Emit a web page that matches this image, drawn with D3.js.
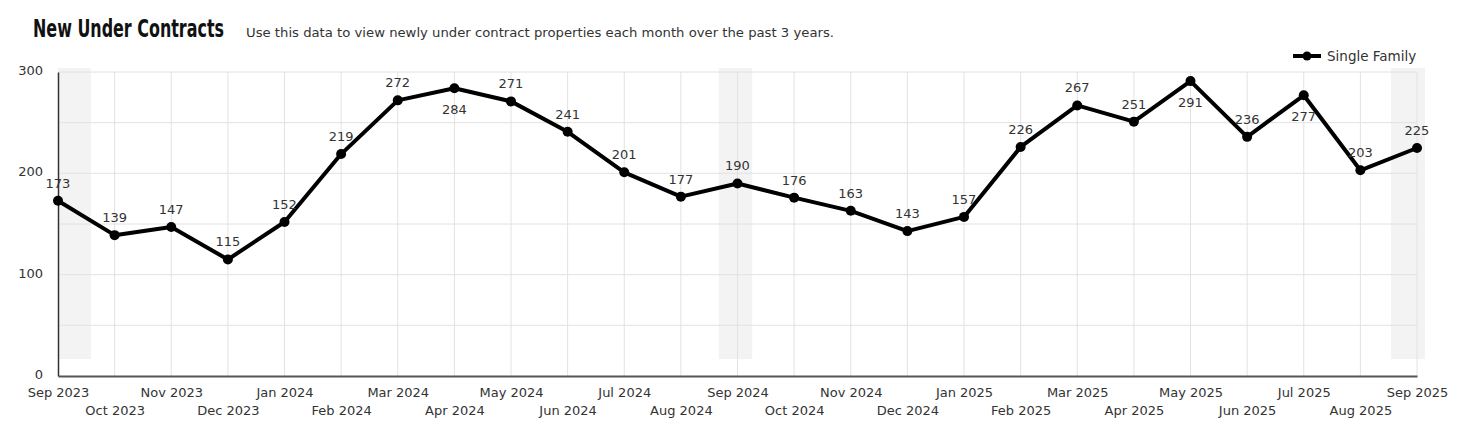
<!DOCTYPE html>
<html>
<head>
<meta charset="utf-8">
<script src="https://cdn.jsdelivr.net/npm/d3@7.9.0/dist/d3.min.js"></script>
<style>
  html, body { margin: 0; padding: 0; background: #fff; }
  svg { display: block; }
  .title { font-family: "DejaVu Sans Condensed", "DejaVu Sans", sans-serif; font-weight: bold; font-size: 24px; fill: #111; }
  .subtitle { font-family: "DejaVu Sans", sans-serif; font-size: 12.5px; fill: #333; }
  .tick text, .lbl, .legend text { font-family: "DejaVu Sans", sans-serif; fill: #333; }
</style>
</head>
<body>
<svg id="chart" width="1462" height="436"></svg>
<script>
// ---- data ----
const months = [
  'Sep 2023', 'Oct 2023', 'Nov 2023', 'Dec 2023', 'Jan 2024', 'Feb 2024', 'Mar 2024',
  'Apr 2024', 'May 2024', 'Jun 2024', 'Jul 2024', 'Aug 2024', 'Sep 2024', 'Oct 2024',
  'Nov 2024', 'Dec 2024', 'Jan 2025', 'Feb 2025', 'Mar 2025', 'Apr 2025', 'May 2025',
  'Jun 2025', 'Jul 2025', 'Aug 2025', 'Sep 2025'
];
const singleFamily = [
  173, 139, 147, 115, 152, 219, 272, 284, 271, 241, 201, 177, 190,
  176, 163, 143, 157, 226, 267, 251, 291, 236, 277, 203, 225
];
const yTicks = [0, 100, 200, 300];
const yGrid = [0, 50, 100, 150, 200, 250, 300];
// shaded September spans, in month-index units
const bandFrom = [0, 11.67, 23.54];
const bandTo = [0.58, 12.26, 24.14];

const W = 1462, H = 436;
const margin = { top: 72, right: 45, bottom: 60, left: 58 };

const svg = d3.select('#chart');

const x = d3.scalePoint()
  .domain(months)
  .range([margin.left, W - margin.right]);

const y = d3.scaleLinear()
  .domain([0, 300])
  .range([H - margin.bottom, margin.top]);

const step = x.step();
const monthPos = i => margin.left + i * step;

// title
svg.append('text')
  .attr('class', 'title')
  .attr('x', 33).attr('y', 37)
  .attr('textLength', 191)
  .attr('lengthAdjust', 'spacingAndGlyphs')
  .text('New Under Contracts');

svg.append('text')
  .attr('class', 'subtitle')
  .attr('x', 246).attr('y', 37)
  .attr('textLength', 588)
  .attr('lengthAdjust', 'spacingAndGlyphs')
  .text('Use this data to view newly under contract properties each month over the past 3 years.');

// shaded bands
svg.append('g')
  .selectAll('rect')
  .data(bandFrom.map((f, i) => [f, bandTo[i]]))
  .join('rect')
  .attr('x', d => monthPos(d[0]))
  .attr('width', d => monthPos(d[1]) - monthPos(d[0]))
  .attr('y', margin.top - 4)
  .attr('height', y(0) - 17 - (margin.top - 4))
  .attr('fill', '#f3f3f3');

// grid
svg.append('g')
  .selectAll('line')
  .data(yGrid.slice(1))
  .join('line')
  .attr('x1', margin.left).attr('x2', W - margin.right)
  .attr('y1', d => y(d)).attr('y2', d => y(d))
  .attr('stroke', '#e2e2e2');

svg.append('g')
  .selectAll('line')
  .data(months.slice(1))
  .join('line')
  .attr('x1', d => x(d)).attr('x2', d => x(d))
  .attr('y1', y(300)).attr('y2', y(0))
  .attr('stroke', '#e2e2e2');

// y axis
const yAxis = svg.append('g')
  .attr('transform', `translate(${margin.left},0)`)
  .call(d3.axisLeft(y).tickValues(yTicks).tickSize(0).tickPadding(15));
yAxis.select('.domain').attr('stroke', '#333').attr('stroke-width', 1.5);
yAxis.selectAll('.tick text').attr('font-size', 13).attr('dy', '0.2em');

// x axis
const xAxis = svg.append('g')
  .attr('transform', `translate(0,${y(0)})`)
  .call(d3.axisBottom(x).tickSize(0).tickPadding(0));
xAxis.select('.domain').attr('stroke', '#555').attr('stroke-width', 2);
xAxis.selectAll('.tick text')
  .attr('font-size', 13)
  .attr('dy', null)
  .attr('y', (d, i) => i % 2 === 0 ? 21 : 39);

// line
const line = d3.line()
  .x((d, i) => x(months[i]))
  .y(d => y(d));

svg.append('path')
  .datum(singleFamily)
  .attr('d', line)
  .attr('fill', 'none')
  .attr('stroke', '#000')
  .attr('stroke-width', 4)
  .attr('stroke-linejoin', 'round');

svg.append('g')
  .selectAll('circle')
  .data(singleFamily)
  .join('circle')
  .attr('cx', (d, i) => x(months[i]))
  .attr('cy', d => y(d))
  .attr('r', 5)
  .attr('fill', '#000');

// value labels
svg.append('g')
  .selectAll('text')
  .data(singleFamily)
  .join('text')
  .attr('class', 'lbl')
  .attr('font-size', 13)
  .attr('text-anchor', 'middle')
  .attr('x', (d, i) => x(months[i]))
  .attr('y', d => d > 275 ? y(d) + 26 : y(d) - 13)
  .text(d => d);

// legend
const legend = svg.append('g').attr('class', 'legend');
legend.append('line')
  .attr('x1', 1293).attr('x2', 1321)
  .attr('y1', 56).attr('y2', 56)
  .attr('stroke', '#000').attr('stroke-width', 4);
legend.append('circle')
  .attr('cx', 1307).attr('cy', 56).attr('r', 4.5).attr('fill', '#000');
legend.append('text')
  .attr('x', 1327).attr('y', 60.5)
  .attr('font-size', 13.5)
  .text('Single Family');
</script>
</body>
</html>
